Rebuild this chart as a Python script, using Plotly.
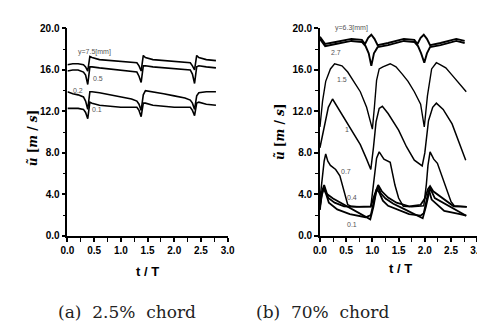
import plotly.graph_objects as go

# ---------------- (a) 2.5% chord ----------------
a_t = [0, 0.1, 0.2, 0.3, 0.34, 0.38, 0.42, 0.46, 0.6, 0.8, 1.0, 1.2, 1.3, 1.34, 1.38, 1.42,
       1.46, 1.6, 1.8, 2.0, 2.2, 2.3, 2.34, 2.38, 2.42, 2.46, 2.6, 2.78]
a_v75 = [16.5, 16.6, 16.6, 16.5, 16.3, 15.9, 17.3, 17.2, 17.0, 16.9, 16.8, 16.7, 16.7, 16.4,
         15.9, 17.4, 17.2, 17.0, 16.9, 16.8, 16.7, 16.7, 16.4, 16.0, 17.4, 17.2, 17.0, 16.9]
a_v05 = [15.9, 16.0, 16.0, 15.8, 15.5, 14.6, 16.3, 16.3, 16.2, 16.1, 16.0, 15.9, 15.8, 15.4,
         14.8, 16.4, 16.4, 16.3, 16.2, 16.1, 16.0, 16.0, 15.6, 14.7, 16.3, 16.4, 16.3, 16.2]
a_v02 = [13.9, 13.7, 13.6, 13.4, 13.0, 12.2, 13.9, 13.9, 13.8, 13.6, 13.4, 13.2, 13.0, 12.7,
         12.1, 13.6, 14.0, 13.9, 13.7, 13.5, 13.3, 13.1, 12.8, 12.2, 13.5, 13.8, 13.9, 13.9]
a_v01 = [12.3, 12.3, 12.3, 12.2, 11.9, 11.3, 12.9, 12.8, 12.6, 12.5, 12.4, 12.4, 12.4, 12.1,
         11.5, 12.8, 12.8, 12.6, 12.5, 12.4, 12.4, 12.4, 12.1, 11.6, 12.8, 12.9, 12.7, 12.6]
a_labels = ["y=7.5[mm]", "0.5", "0.2", "0.1"]
a_label_t = [0.16, 0.58, 0.20, 0.55]
a_label_v = [17.7, 15.2, 14.0, 12.2]

# ---------------- (b) 70% chord ----------------
b_t63 = [0, 0.1, 0.3, 0.6, 0.8, 0.86, 0.92, 0.98, 1.04, 1.1, 1.3, 1.6, 1.8, 1.86, 1.92, 1.98,
         2.04, 2.1, 2.3, 2.6, 2.76]
b_v63 = [19.2, 18.5, 18.7, 19.0, 18.9, 18.5, 19.1, 19.4, 19.0, 18.4, 18.6, 19.0, 18.9, 18.5,
         19.1, 19.4, 19.0, 18.4, 18.6, 19.0, 18.8]
b_t27 = [0, 0.1, 0.3, 0.6, 0.8, 0.87, 0.93, 0.98, 1.03, 1.1, 1.3, 1.6, 1.8, 1.87, 1.93, 1.99,
         2.04, 2.1, 2.3, 2.6, 2.76]
b_v27 = [19.0, 18.3, 18.5, 18.8, 18.7, 18.3, 17.6, 16.4, 17.6, 18.2, 18.4, 18.8, 18.7, 18.3,
         17.6, 16.7, 17.6, 18.2, 18.4, 18.8, 18.6]
b_t15 = [0, 0.05, 0.11, 0.2, 0.28, 0.35, 0.42, 0.53, 0.65, 0.77, 0.89, 0.95, 1.0, 1.04, 1.08,
         1.13, 1.2, 1.34, 1.45, 1.57, 1.68, 1.8, 1.92, 1.99, 2.05, 2.13, 2.22, 2.3, 2.4, 2.52,
         2.65, 2.79]
b_v15 = [10.5, 13.0, 14.9, 16.1, 16.6, 16.5, 16.4, 15.8, 14.9, 13.9, 12.4, 11.3, 10.3, 12.5,
         15.0, 16.1, 16.3, 16.6, 16.3, 15.6, 14.9, 13.9, 12.7, 10.5, 13.5, 16.1, 16.7, 16.5,
         16.2, 15.5, 14.7, 13.9]
b_t1 = [0, 0.08, 0.16, 0.24, 0.35, 0.5, 0.65, 0.77, 0.89, 0.97, 1.02, 1.07, 1.13, 1.19, 1.3,
        1.5, 1.65, 1.8, 1.95, 2.0, 2.07, 2.15, 2.22, 2.35, 2.52, 2.65, 2.78]
b_v1 = [8.5, 10.5, 12.4, 13.2, 12.3, 11.0, 9.8, 8.8, 7.4, 6.4, 8.5, 11.0, 12.3, 12.5, 11.8,
        10.2, 8.6, 7.3, 6.75, 8.0, 11.1, 12.4, 12.8, 12.2, 10.8, 9.0, 7.3]
b_t07 = [0, 0.04, 0.08, 0.11, 0.15, 0.2, 0.3, 0.38, 0.47, 0.53, 0.6, 0.75, 0.97, 1.03, 1.08,
         1.13, 1.22, 1.34, 1.43, 1.5, 1.59, 1.75, 1.98, 2.03, 2.06, 2.1, 2.17, 2.24, 2.31,
         2.4, 2.5, 2.56, 2.8]
b_v07 = [3.5, 5.5, 7.2, 7.9, 7.2, 6.8, 6.4, 5.8, 3.95, 3.0, 2.85, 2.8, 2.8, 5.5, 7.5, 8.1,
         7.4, 7.1, 4.9, 3.65, 2.85, 2.8, 2.9, 5.0, 6.8, 8.1, 7.4, 7.0, 6.0, 4.6, 3.3, 2.9, 2.8]
b_t04 = [0, 0.04, 0.08, 0.16, 0.28, 0.46, 0.7, 0.97, 1.03, 1.08, 1.11, 1.18, 1.3, 1.46, 1.7,
         1.92, 2.0, 2.06, 2.1, 2.16, 2.37, 2.55, 2.8]
b_v04 = [3.0, 4.3, 4.9, 3.65, 3.2, 2.85, 2.8, 2.85, 3.8, 4.6, 4.9, 4.3, 3.7, 3.2, 2.85, 3.0,
         3.6, 4.5, 4.8, 4.3, 3.5, 2.85, 2.8]
b_t02 = [0, 0.04, 0.08, 0.12, 0.25, 0.39, 0.6, 0.8, 0.96, 1.02, 1.07, 1.11, 1.16, 1.25, 1.4,
         1.6, 1.8, 1.96, 2.02, 2.07, 2.1, 2.19, 2.35, 2.49, 2.65, 2.79]
b_v02 = [2.8, 4.0, 4.7, 4.1, 3.6, 3.2, 2.6, 2.1, 1.6, 2.8, 4.2, 4.7, 4.1, 3.6, 3.1, 2.6, 2.1,
         1.7, 2.8, 4.1, 4.6, 3.65, 3.2, 2.85, 2.4, 1.95]
b_t01 = [0, 0.03, 0.07, 0.12, 0.17, 0.33, 0.57, 0.87, 0.97, 1.03, 1.08, 1.13, 1.2, 1.3, 1.46,
         1.7, 1.92, 1.98, 2.04, 2.08, 2.13, 2.37, 2.67, 2.79]
b_v01 = [2.5, 4.0, 4.6, 4.0, 3.2, 2.55, 2.1, 1.8, 2.0, 3.5, 4.5, 4.2, 3.4, 2.9, 2.55, 2.1,
         1.95, 2.2, 3.6, 4.4, 3.5, 2.4, 2.1, 1.95]
b_labels = ["y=6.3[mm]", "2.7", "1.5", "1", "0.7", "0.4", "0.1"]
b_label_t = [0.25, 0.31, 0.43, 0.52, 0.49, 0.61, 0.61]
b_label_v = [20.0, 17.7, 15.1, 10.3, 6.2, 3.7, 1.1]

y_ticks = [0, 4, 8, 12, 16, 20]
x_ticks = [0, 0.5, 1.0, 1.5, 2.0, 2.5, 3.0]
captions = ["(a)  2.5%  chord", "(b)  70%  chord"]
x_title = "t / T"
y_title = "<i>ũ</i> [<i>m</i> / <i>s</i>]"

fig = go.Figure()

def add_line(t, v, xa, ya, w=1.6):
    fig.add_trace(go.Scatter(x=t, y=v, mode="lines", xaxis=xa, yaxis=ya,
                             line=dict(color="black", width=w), showlegend=False,
                             hoverinfo="skip"))

for v in [a_v75, a_v05, a_v02, a_v01]:
    add_line(a_t, v, "x", "y")

add_line(b_t63, b_v63, "x2", "y2", 1.9)
add_line(b_t27, b_v27, "x2", "y2", 1.9)
add_line(b_t15, b_v15, "x2", "y2", 1.4)
add_line(b_t1, b_v1, "x2", "y2", 1.5)
add_line(b_t07, b_v07, "x2", "y2", 1.5)
add_line(b_t04, b_v04, "x2", "y2", 1.8)
add_line(b_t02, b_v02, "x2", "y2", 1.8)
add_line(b_t01, b_v01, "x2", "y2", 1.8)

tickfont = dict(family="Liberation Sans", size=10, color="black", weight="bold")
ydom = [0.3066, 0.9547]

def xaxis(dom, anchor):
    return dict(domain=dom, anchor=anchor, range=[0, 3], tickvals=x_ticks,
                tickformat=".1f", showgrid=False, zeroline=False, showline=True,
                linecolor="black", linewidth=1.8, ticks="outside", ticklen=4,
                tickwidth=1.5, tickcolor="black", tickfont=tickfont,
                ticklabelstandoff=0,
                minor=dict(dtick=0.25, ticks="outside", ticklen=4, tickwidth=1.2,
                           tickcolor="black", showgrid=False))

def yaxis(anchor):
    return dict(domain=ydom, anchor=anchor, range=[0, 20], tickvals=y_ticks,
                tickformat=".1f", showgrid=False, zeroline=False, showline=True,
                linecolor="black", linewidth=1.8, ticks="outside", ticklen=4,
                tickwidth=1.5, tickcolor="black", tickfont=tickfont,
                minor=dict(dtick=2, ticks="outside", ticklen=3, tickwidth=1.2,
                           tickcolor="black", showgrid=False))

annotations = []
lab_font = dict(family="Liberation Sans", size=7, color="#555")
for txt, t, v in zip(a_labels, a_label_t, a_label_v):
    annotations.append(dict(x=t, y=v, xref="x", yref="y", text=txt, showarrow=False,
                            font=lab_font, yanchor="middle",
                            xanchor="left" if txt.startswith("y") else "center"))
for txt, t, v in zip(b_labels, b_label_t, b_label_v):
    annotations.append(dict(x=t, y=v, xref="x2", yref="y2", text=txt, showarrow=False,
                            font=lab_font, yanchor="middle",
                            xanchor="left" if txt.startswith("y") else "center"))

title_font = dict(family="Liberation Sans Narrow, Liberation Sans", size=13, color="black",
                  weight="bold")
ytitle_font = dict(family="DejaVu Serif", size=12, color="black", weight="bold")
cap_font = dict(family="DejaVu Serif", size=17, color="#222")

def pann(px, py, text, font, angle=0):
    return dict(x=px / 485, y=(331 - py) / 331, xref="paper", yref="paper", text=text,
                showarrow=False, font=font, textangle=angle,
                xanchor="center", yanchor="middle")

annotations += [
    pann(136, 266, x_title, title_font),
    pann(397, 263, x_title, title_font),
    pann(18, 128, y_title, ytitle_font, -90),
    pann(273, 122, y_title, ytitle_font, -90),
    pann(115, 308, captions[0], cap_font),
    pann(317, 308, captions[1], cap_font),
]

fig.update_layout(
    width=485, height=331, margin=dict(l=0, r=0, t=0, b=0),
    paper_bgcolor="white", plot_bgcolor="white", showlegend=False,
    xaxis=xaxis([54 / 485, 219 / 485], "y"),
    yaxis=yaxis("x"),
    xaxis2=xaxis([314 / 485, 476 / 485], "y2"),
    yaxis2=yaxis("x2"),
    annotations=annotations,
)

fig.write_html("out.html")
